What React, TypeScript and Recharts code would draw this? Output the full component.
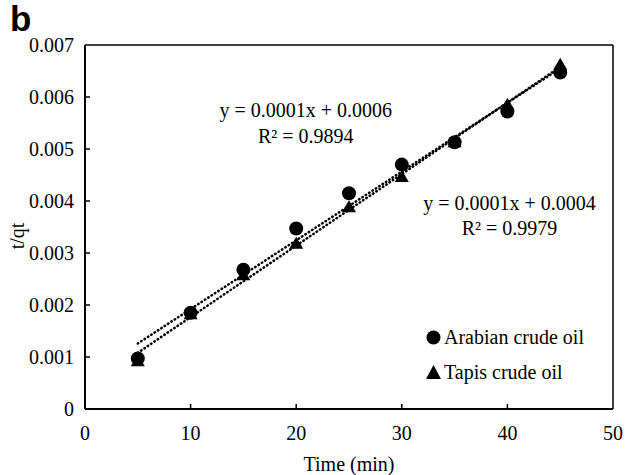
import React from "react";
import {
  ComposedChart, XAxis, YAxis, Scatter, Line, ReferenceLine, ReferenceDot,
} from "recharts";

// values
const times = [5, 10, 15, 20, 25, 30, 35, 40, 45];
const arabian = [0.00097, 0.00185, 0.00268, 0.00347, 0.00415, 0.0047, 0.00513, 0.00572, 0.00647];
const tapis = [0.00092, 0.00182, 0.00257, 0.00318, 0.00388, 0.00446, 0.00513, 0.00585, 0.00662];

// trendline end points (x = 5 and x = 45)
const trendX = [5, 45];
const arabianTrend = [0.00126, 0.00655];
const tapisTrend = [0.00108, 0.00658];

const xTicks = [0, 10, 20, 30, 40, 50];
const yTicks = [0, 0.001, 0.002, 0.003, 0.004, 0.005, 0.006, 0.007];

const equations = [
  { x: 20.9, y: 0.00575, text: "y = 0.0001x + 0.0006" },
  { x: 20.9, y: 0.00526, text: "R² = 0.9894" },
  { x: 40.2, y: 0.00396, text: "y = 0.0001x + 0.0004" },
  { x: 40.2, y: 0.00348, text: "R² = 0.9979" },
];

const legendItems = [
  { name: "Arabian crude oil", shape: "circle" },
  { name: "Tapis crude oil", shape: "triangle" },
];

const arabianData = times.map((t, i) => ({ x: t, y: arabian[i] }));
const tapisData = times.map((t, i) => ({ x: t, y: tapis[i] }));
const arabianLine = trendX.map((t, i) => ({ x: t, y: arabianTrend[i] }));
const tapisLine = trendX.map((t, i) => ({ x: t, y: tapisTrend[i] }));

const FONT = "'Liberation Serif', 'Times New Roman', serif";
const X_MARGIN = 17;
const Y_MARGIN = 11;

const XTick = (props: any) => {
  const { x, y, payload } = props;
  const axisY = y - X_MARGIN;
  const v = payload.value;
  return (
    <g>
      {v > 0 && v < 50 && (
        <line x1={x} x2={x} y1={axisY} y2={axisY - 5} stroke="#000" strokeWidth={1.5} />
      )}
      <text x={x} y={y} dy="0.71em" textAnchor="middle" fontFamily={FONT} fontSize={20} fill="#000">
        {v}
      </text>
    </g>
  );
};

const YTick = (props: any) => {
  const { x, y, payload } = props;
  const axisX = x + Y_MARGIN;
  const v = payload.value;
  return (
    <g>
      {v > 0 && v < 0.007 && (
        <line x1={axisX} x2={axisX + 5} y1={y} y2={y} stroke="#000" strokeWidth={1.5} />
      )}
      <text x={x} y={y} dy="0.355em" textAnchor="end" fontFamily={FONT} fontSize={20} fill="#000">
        {v === 0 ? "0" : v.toFixed(3)}
      </text>
    </g>
  );
};

const circleShape = (p: any) => <circle cx={p.cx} cy={p.cy} r={7} fill="#000" />;
const triangleShape = (p: any) => (
  <polygon
    points={`${p.cx},${p.cy - 7} ${p.cx - 7},${p.cy + 5} ${p.cx + 7},${p.cy + 5}`}
    fill="#000"
  />
);

export default function App() {
  return (
    <div style={{ position: "absolute", left: 0, top: 0, width: 626, height: 475, background: "#fff" }}>
      <div
        style={{
          position: "absolute", left: 10, top: 0, fontFamily: "'Liberation Sans', Arial, sans-serif",
          fontWeight: "bold", fontSize: 35, lineHeight: "38px",
        }}
      >
        b
      </div>
      <div
        style={{
          position: "absolute", left: 17, top: 236, transform: "translate(-50%, -50%) rotate(-90deg)",
          fontFamily: FONT, fontSize: 20, whiteSpace: "nowrap",
        }}
      >
        t/qt
      </div>
      <div
        style={{
          position: "absolute", left: 349, top: 464, transform: "translate(-50%, -50%)",
          fontFamily: FONT, fontSize: 20, whiteSpace: "nowrap",
        }}
      >
        Time (min)
      </div>
      <ComposedChart
        width={626}
        height={475}
        margin={{ top: 45, right: 13, left: 0, bottom: 0 }}
        style={{ position: "absolute", left: 0, top: 0 }}
      >
        <XAxis
          type="number"
          dataKey="x"
          domain={[0, 50]}
          ticks={xTicks}
          height={66}
          tickSize={0}
          tickMargin={X_MARGIN}
          tick={XTick}
          tickLine={false}
          axisLine={{ stroke: "#000", strokeWidth: 2 }}
          allowDataOverflow
        />
        <YAxis
          type="number"
          dataKey="y"
          domain={[0, 0.007]}
          ticks={yTicks}
          width={85}
          tickSize={0}
          tickMargin={Y_MARGIN}
          tick={YTick}
          tickLine={false}
          axisLine={{ stroke: "#000", strokeWidth: 2 }}
          allowDataOverflow
        />
        <ReferenceLine y={0.007} stroke="#000" strokeWidth={1.5} />
        <ReferenceLine x={50} stroke="#000" strokeWidth={1.5} />
        <Scatter data={tapisData} dataKey="y" shape={triangleShape} isAnimationActive={false} />
        <Scatter data={arabianData} dataKey="y" shape={circleShape} isAnimationActive={false} />
        <Line
          data={arabianLine}
          dataKey="y"
          type="linear"
          stroke="#000"
          strokeWidth={2.5}
          strokeLinecap="round"
          strokeDasharray="0.5 3.5"
          dot={false}
          activeDot={false}
          isAnimationActive={false}
        />
        <Line
          data={tapisLine}
          dataKey="y"
          type="linear"
          stroke="#000"
          strokeWidth={2.5}
          strokeLinecap="round"
          strokeDasharray="0.5 3.5"
          dot={false}
          activeDot={false}
          isAnimationActive={false}
        />
        {equations.map((e) => (
          <ReferenceDot
            key={e.text}
            x={e.x}
            y={e.y}
            r={0}
            fill="none"
            stroke="none"
            label={{ value: e.text, position: "center", fontFamily: FONT, fontSize: 20, fill: "#000" }}
          />
        ))}
      </ComposedChart>
      <div
        style={{
          position: "absolute", left: 426, top: 320, fontFamily: FONT, fontSize: 20, color: "#000",
        }}
      >
        {legendItems.map((it) => (
          <div key={it.name} style={{ display: "flex", alignItems: "center", height: 35 }}>
            <svg width={15} height={15} style={{ marginRight: 3 }}>
              {it.shape === "circle" ? (
                <circle cx={7.5} cy={7.5} r={7} fill="#000" />
              ) : (
                <polygon points="7.5,0 0,14 15,14" fill="#000" />
              )}
            </svg>
            <span>{it.name}</span>
          </div>
        ))}
      </div>
    </div>
  );
}
